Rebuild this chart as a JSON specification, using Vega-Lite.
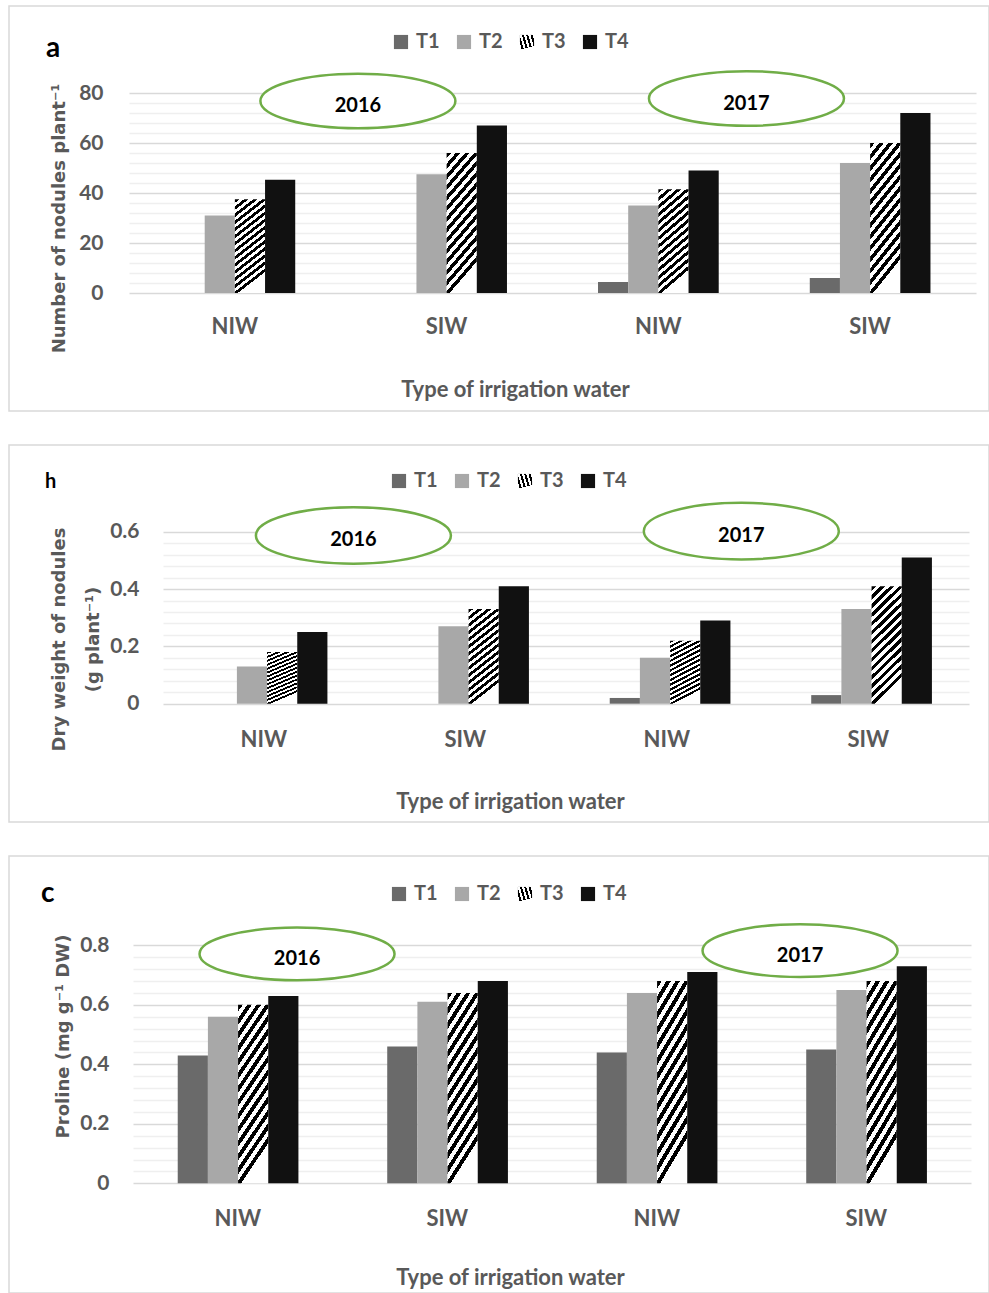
{
  "$schema": "https://vega.github.io/schema/vega-lite/v6.json",
  "padding": {"top": 5, "left": 8, "right": 0, "bottom": 0},
  "background": "white",
  "spacing": 34,
  "bounds": "flush",
  "config": {"view": {"stroke": "#d9d9d9", "strokeWidth": 1.5}, "font": "Lato"},
  "params": [
    {"name": "stripes", "expr": "{gradient:'linear',x1:0,y1:0,x2:0.25,y2:1,stops:[{offset:0,color:'#000'},{offset:0.0357,color:'#000'},{offset:0.0357,color:'#fff'},{offset:0.0714,color:'#fff'},{offset:0.0714,color:'#000'},{offset:0.1071,color:'#000'},{offset:0.1071,color:'#fff'},{offset:0.1429,color:'#fff'},{offset:0.1429,color:'#000'},{offset:0.1786,color:'#000'},{offset:0.1786,color:'#fff'},{offset:0.2143,color:'#fff'},{offset:0.2143,color:'#000'},{offset:0.25,color:'#000'},{offset:0.25,color:'#fff'},{offset:0.2857,color:'#fff'},{offset:0.2857,color:'#000'},{offset:0.3214,color:'#000'},{offset:0.3214,color:'#fff'},{offset:0.3571,color:'#fff'},{offset:0.3571,color:'#000'},{offset:0.3929,color:'#000'},{offset:0.3929,color:'#fff'},{offset:0.4286,color:'#fff'},{offset:0.4286,color:'#000'},{offset:0.4643,color:'#000'},{offset:0.4643,color:'#fff'},{offset:0.5,color:'#fff'},{offset:0.5,color:'#000'},{offset:0.5357,color:'#000'},{offset:0.5357,color:'#fff'},{offset:0.5714,color:'#fff'},{offset:0.5714,color:'#000'},{offset:0.6071,color:'#000'},{offset:0.6071,color:'#fff'},{offset:0.6429,color:'#fff'},{offset:0.6429,color:'#000'},{offset:0.6786,color:'#000'},{offset:0.6786,color:'#fff'},{offset:0.7143,color:'#fff'},{offset:0.7143,color:'#000'},{offset:0.75,color:'#000'},{offset:0.75,color:'#fff'},{offset:0.7857,color:'#fff'},{offset:0.7857,color:'#000'},{offset:0.8214,color:'#000'},{offset:0.8214,color:'#fff'},{offset:0.8571,color:'#fff'},{offset:0.8571,color:'#000'},{offset:0.8929,color:'#000'},{offset:0.8929,color:'#fff'},{offset:0.9286,color:'#fff'},{offset:0.9286,color:'#000'},{offset:0.9643,color:'#000'},{offset:0.9643,color:'#fff'},{offset:1,color:'#fff'}]}"}
  ],
  "resolve": {"scale": {"fill": "independent"}, "legend": {"fill": "independent"}},
  "datasets": {
    "nodules": [
      {"grp": "2016 NIW", "trt": "T1", "value": 0},
      {"grp": "2016 NIW", "trt": "T2", "value": 31},
      {"grp": "2016 NIW", "trt": "T3", "value": 37.5},
      {"grp": "2016 NIW", "trt": "T4", "value": 45.3},
      {"grp": "2016 SIW", "trt": "T1", "value": 0},
      {"grp": "2016 SIW", "trt": "T2", "value": 47.5},
      {"grp": "2016 SIW", "trt": "T3", "value": 56},
      {"grp": "2016 SIW", "trt": "T4", "value": 67},
      {"grp": "2017 NIW", "trt": "T1", "value": 4.4},
      {"grp": "2017 NIW", "trt": "T2", "value": 35},
      {"grp": "2017 NIW", "trt": "T3", "value": 41.5},
      {"grp": "2017 NIW", "trt": "T4", "value": 49},
      {"grp": "2017 SIW", "trt": "T1", "value": 6},
      {"grp": "2017 SIW", "trt": "T2", "value": 52},
      {"grp": "2017 SIW", "trt": "T3", "value": 60},
      {"grp": "2017 SIW", "trt": "T4", "value": 72}
    ],
    "dryweight": [
      {"grp": "2016 NIW", "trt": "T1", "value": 0},
      {"grp": "2016 NIW", "trt": "T2", "value": 0.13},
      {"grp": "2016 NIW", "trt": "T3", "value": 0.18},
      {"grp": "2016 NIW", "trt": "T4", "value": 0.25},
      {"grp": "2016 SIW", "trt": "T1", "value": 0},
      {"grp": "2016 SIW", "trt": "T2", "value": 0.27},
      {"grp": "2016 SIW", "trt": "T3", "value": 0.33},
      {"grp": "2016 SIW", "trt": "T4", "value": 0.41},
      {"grp": "2017 NIW", "trt": "T1", "value": 0.02},
      {"grp": "2017 NIW", "trt": "T2", "value": 0.16},
      {"grp": "2017 NIW", "trt": "T3", "value": 0.22},
      {"grp": "2017 NIW", "trt": "T4", "value": 0.29},
      {"grp": "2017 SIW", "trt": "T1", "value": 0.03},
      {"grp": "2017 SIW", "trt": "T2", "value": 0.33},
      {"grp": "2017 SIW", "trt": "T3", "value": 0.41},
      {"grp": "2017 SIW", "trt": "T4", "value": 0.51}
    ],
    "proline": [
      {"grp": "2016 NIW", "trt": "T1", "value": 0.43},
      {"grp": "2016 NIW", "trt": "T2", "value": 0.56},
      {"grp": "2016 NIW", "trt": "T3", "value": 0.6},
      {"grp": "2016 NIW", "trt": "T4", "value": 0.63},
      {"grp": "2016 SIW", "trt": "T1", "value": 0.46},
      {"grp": "2016 SIW", "trt": "T2", "value": 0.61},
      {"grp": "2016 SIW", "trt": "T3", "value": 0.64},
      {"grp": "2016 SIW", "trt": "T4", "value": 0.68},
      {"grp": "2017 NIW", "trt": "T1", "value": 0.44},
      {"grp": "2017 NIW", "trt": "T2", "value": 0.64},
      {"grp": "2017 NIW", "trt": "T3", "value": 0.68},
      {"grp": "2017 NIW", "trt": "T4", "value": 0.71},
      {"grp": "2017 SIW", "trt": "T1", "value": 0.45},
      {"grp": "2017 SIW", "trt": "T2", "value": 0.65},
      {"grp": "2017 SIW", "trt": "T3", "value": 0.68},
      {"grp": "2017 SIW", "trt": "T4", "value": 0.73}
    ],
    "years": [
      {"panel": "a", "year": "2016", "pos": 1.081, "val": 76.8},
      {"panel": "a", "year": "2017", "pos": 2.916, "val": 77.8},
      {"panel": "b", "year": "2016", "pos": 0.945, "val": 0.587},
      {"panel": "b", "year": "2017", "pos": 2.87, "val": 0.602},
      {"panel": "c", "year": "2016", "pos": 0.783, "val": 0.771},
      {"panel": "c", "year": "2017", "pos": 3.184, "val": 0.782}
    ]
  },
  "vconcat": [
    {
      "width": 980,
      "height": 405,
      "title": {"text": "a", "anchor": "start", "frame": "group", "offset": 0, "dx": 37, "dy": 79, "baseline": "alphabetic", "font": "Lato", "fontSize": 28, "fontWeight": "bold", "color": "#000000"},
      "resolve": {"scale": {"x": "independent", "y": "independent"}},
      "layer": [
        {
          "data": {"name": "nodules"},
          "mark": {"type": "bar"},
          "encoding": {
            "x": {"field": "grp", "type": "nominal", "sort": ["2016 NIW", "2016 SIW", "2017 NIW", "2017 SIW"],
              "scale": {"range": [120, 967], "paddingInner": 0.43, "paddingOuter": 0.215},
              "axis": {"orient": "bottom", "offset": -118, "domain": false, "ticks": false, "tickSize": 0, "grid": false, "labelPadding": 23, "labelAngle": 0,
                "labelExpr": "slice(datum.label, 5)", "labelFont": "Lato", "labelFontSize": 22, "labelFontWeight": "bold", "labelColor": "#595959",
                "title": "Type of irrigation water", "titleFont": "Lato", "titleFontSize": 22, "titleFontWeight": "bold", "titleColor": "#595959",
                "titleX": 506, "titleY": 103, "titleBaseline": "alphabetic", "titleAlign": "center"}},
            "xOffset": {"field": "trt", "type": "nominal", "sort": ["T1", "T2", "T3", "T4"], "scale": {"paddingInner": 0, "paddingOuter": 0}},
            "y": {"field": "value", "type": "quantitative", "scale": {"domain": [0, 80], "range": [287, 87]},
              "axis": {"orient": "left", "values": [0, 4, 8, 12, 16, 20, 24, 28, 32, 36, 40, 44, 48, 52, 56, 60, 64, 68, 72, 76, 80],
                "labelExpr": "datum.value % 20 === 0 ? format(datum.value, 'd') : ''", "labelOverlap": false,
                "offset": -94, "domain": false, "ticks": false, "tickSize": 0, "labelPadding": 0,
                "grid": true, "gridWidth": 1.5, "gridColor": {"condition": {"test": "datum.value % 20 === 0", "value": "#d9d9d9"}, "value": "#efefef"},
                "labelFont": "Lato", "labelFontSize": 21, "labelFontWeight": "bold", "labelColor": "#595959",
                "title": "Number of nodules plant⁻¹", "titleFont": "DejaVu Sans", "titleFontSize": 18, "titleFontWeight": "bold", "titleColor": "#595959",
                "titleAngle": -90, "titleX": -44, "titleY": 212, "titleBaseline": "middle", "titleAlign": "center"}},
            "fill": {"field": "trt", "type": "nominal",
              "scale": {"domain": ["T1", "T2", "T3", "T4"], "range": ["#6a6a6a", "#a8a8a8", {"expr": "stripes"}, "#111111"]},
              "legend": {"orient": "none", "legendX": 382, "legendY": 26, "direction": "horizontal", "title": null, "padding": 0,
                "symbolType": "square", "symbolSize": 200, "symbolStrokeWidth": 0, "labelOffset": 5, "columnPadding": 14,
                "labelFont": "Lato", "labelFontSize": 20, "labelFontWeight": "bold", "labelColor": "#595959"}}
          }
        },
        {
          "data": {"name": "years"},
          "transform": [{"filter": "datum.panel === 'a'"}],
          "mark": {"type": "point", "shape": "M -1 0 A 1 0.28 0 1 1 1 0 A 1 0.28 0 1 1 -1 0 Z", "filled": true, "fill": "white", "stroke": "#70ad47", "strokeWidth": 2.5, "size": 38025, "opacity": 1},
          "encoding": {
            "x": {"field": "pos", "type": "quantitative", "scale": {"domain": [0, 4], "range": [120, 967]}, "axis": null},
            "y": {"field": "val", "type": "quantitative", "scale": {"domain": [0, 80], "range": [287, 87]}, "axis": null}
          }
        },
        {
          "data": {"name": "years"},
          "transform": [{"filter": "datum.panel === 'a'"}],
          "mark": {"type": "text", "font": "Lato", "fontSize": 20, "fontWeight": "bold", "color": "#000000", "baseline": "middle", "dy": 5},
          "encoding": {
            "x": {"field": "pos", "type": "quantitative", "scale": {"domain": [0, 4], "range": [120, 967]}, "axis": null},
            "y": {"field": "val", "type": "quantitative", "scale": {"domain": [0, 80], "range": [287, 87]}, "axis": null},
            "text": {"field": "year"}
          }
        }
      ]
    },
    {
      "width": 980,
      "height": 377,
      "title": {"text": "h", "anchor": "start", "frame": "group", "offset": 0, "dx": 36, "dy": 63, "baseline": "alphabetic", "font": "Lato", "fontSize": 20, "fontWeight": "bold", "color": "#000000"},
      "resolve": {"scale": {"x": "independent", "y": "independent"}},
      "layer": [
        {
          "data": {"name": "dryweight"},
          "mark": {"type": "bar"},
          "encoding": {
            "x": {"field": "grp", "type": "nominal", "sort": ["2016 NIW", "2016 SIW", "2017 NIW", "2017 SIW"],
              "scale": {"range": [154, 960], "paddingInner": 0.434, "paddingOuter": 0.217},
              "axis": {"orient": "bottom", "offset": -118.3, "domain": false, "ticks": false, "tickSize": 0, "grid": false, "labelPadding": 26, "labelAngle": 0,
                "labelExpr": "slice(datum.label, 5)", "labelFont": "Lato", "labelFontSize": 22, "labelFontWeight": "bold", "labelColor": "#595959",
                "title": "Type of irrigation water", "titleFont": "Lato", "titleFontSize": 22, "titleFontWeight": "bold", "titleColor": "#595959",
                "titleX": 501, "titleY": 105, "titleBaseline": "alphabetic", "titleAlign": "center"}},
            "xOffset": {"field": "trt", "type": "nominal", "sort": ["T1", "T2", "T3", "T4"], "scale": {"paddingInner": 0, "paddingOuter": 0}},
            "y": {"field": "value", "type": "quantitative", "scale": {"domain": [0, 0.6], "range": [258.7, 86.7]},
              "axis": {"orient": "left", "values": [0, 0.04, 0.08, 0.12, 0.16, 0.2, 0.24, 0.28, 0.32, 0.36, 0.4, 0.44, 0.48, 0.52, 0.56, 0.6],
                "labelExpr": "abs(datum.value*5 - round(datum.value*5)) < 0.001 ? format(datum.value, '~g') : ''", "labelOverlap": false,
                "offset": -130, "domain": false, "ticks": false, "tickSize": 0, "labelPadding": 0,
                "grid": true, "gridWidth": 1.5, "gridColor": {"condition": {"test": "abs(datum.value*5 - round(datum.value*5)) < 0.001", "value": "#d9d9d9"}, "value": "#efefef"},
                "labelFont": "Lato", "labelFontSize": 21, "labelFontWeight": "bold", "labelColor": "#595959",
                "title": ["Dry weight of nodules", "(g plant⁻¹)"], "titleFont": "DejaVu Sans", "titleFontSize": 18, "titleFontWeight": "bold", "titleColor": "#595959", "titleLineHeight": 34,
                "titleAngle": -90, "titleX": -80, "titleY": 194, "titleBaseline": "middle", "titleAlign": "center"}},
            "fill": {"field": "trt", "type": "nominal",
              "scale": {"domain": ["T1", "T2", "T3", "T4"], "range": ["#6a6a6a", "#a8a8a8", {"expr": "stripes"}, "#111111"]},
              "legend": {"orient": "none", "legendX": 380, "legendY": 26, "direction": "horizontal", "title": null, "padding": 0,
                "symbolType": "square", "symbolSize": 200, "symbolStrokeWidth": 0, "labelOffset": 5, "columnPadding": 14,
                "labelFont": "Lato", "labelFontSize": 20, "labelFontWeight": "bold", "labelColor": "#595959"}}
          }
        },
        {
          "data": {"name": "years"},
          "transform": [{"filter": "datum.panel === 'b'"}],
          "mark": {"type": "point", "shape": "M -1 0 A 1 0.29 0 1 1 1 0 A 1 0.29 0 1 1 -1 0 Z", "filled": true, "fill": "white", "stroke": "#70ad47", "strokeWidth": 2.5, "size": 38025, "opacity": 1},
          "encoding": {
            "x": {"field": "pos", "type": "quantitative", "scale": {"domain": [0, 4], "range": [154, 960]}, "axis": null},
            "y": {"field": "val", "type": "quantitative", "scale": {"domain": [0, 0.6], "range": [258.7, 86.7]}, "axis": null}
          }
        },
        {
          "data": {"name": "years"},
          "transform": [{"filter": "datum.panel === 'b'"}],
          "mark": {"type": "text", "font": "Lato", "fontSize": 20, "fontWeight": "bold", "color": "#000000", "baseline": "middle", "dy": 5},
          "encoding": {
            "x": {"field": "pos", "type": "quantitative", "scale": {"domain": [0, 4], "range": [154, 960]}, "axis": null},
            "y": {"field": "val", "type": "quantitative", "scale": {"domain": [0, 0.6], "range": [258.7, 86.7]}, "axis": null},
            "text": {"field": "year"}
          }
        }
      ]
    },
    {
      "width": 980,
      "height": 437,
      "title": {"text": "c", "anchor": "start", "frame": "group", "offset": 0, "dx": 32, "dy": 74, "baseline": "alphabetic", "font": "Lato", "fontSize": 28, "fontWeight": "bold", "color": "#000000"},
      "resolve": {"scale": {"x": "independent", "y": "independent"}},
      "layer": [
        {
          "data": {"name": "proline"},
          "mark": {"type": "bar"},
          "encoding": {
            "x": {"field": "grp", "type": "nominal", "sort": ["2016 NIW", "2016 SIW", "2017 NIW", "2017 SIW"],
              "scale": {"range": [124, 962], "paddingInner": 0.427, "paddingOuter": 0.2135},
              "axis": {"orient": "bottom", "offset": -109.7, "domain": false, "ticks": false, "tickSize": 0, "grid": false, "labelPadding": 25, "labelAngle": 0,
                "labelExpr": "slice(datum.label, 5)", "labelFont": "Lato", "labelFontSize": 22, "labelFontWeight": "bold", "labelColor": "#595959",
                "title": "Type of irrigation water", "titleFont": "Lato", "titleFontSize": 22, "titleFontWeight": "bold", "titleColor": "#595959",
                "titleX": 501, "titleY": 101, "titleBaseline": "alphabetic", "titleAlign": "center"}},
            "xOffset": {"field": "trt", "type": "nominal", "sort": ["T1", "T2", "T3", "T4"], "scale": {"paddingInner": 0, "paddingOuter": 0}},
            "y": {"field": "value", "type": "quantitative", "scale": {"domain": [0, 0.8], "range": [327.3, 89.3]},
              "axis": {"orient": "left", "values": [0, 0.04, 0.08, 0.12, 0.16, 0.2, 0.24, 0.28, 0.32, 0.36, 0.4, 0.44, 0.48, 0.52, 0.56, 0.6, 0.64, 0.68, 0.72, 0.76, 0.8],
                "labelExpr": "abs(datum.value*5 - round(datum.value*5)) < 0.001 ? format(datum.value, '~g') : ''", "labelOverlap": false,
                "offset": -100, "domain": false, "ticks": false, "tickSize": 0, "labelPadding": 0,
                "grid": true, "gridWidth": 1.5, "gridColor": {"condition": {"test": "abs(datum.value*5 - round(datum.value*5)) < 0.001", "value": "#d9d9d9"}, "value": "#efefef"},
                "labelFont": "Lato", "labelFontSize": 21, "labelFontWeight": "bold", "labelColor": "#595959",
                "title": "Proline (mg g⁻¹ DW)", "titleFont": "DejaVu Sans", "titleFontSize": 18, "titleFontWeight": "bold", "titleColor": "#595959",
                "titleAngle": -90, "titleX": -46, "titleY": 180, "titleBaseline": "middle", "titleAlign": "center"}},
            "fill": {"field": "trt", "type": "nominal",
              "scale": {"domain": ["T1", "T2", "T3", "T4"], "range": ["#6a6a6a", "#a8a8a8", {"expr": "stripes"}, "#111111"]},
              "legend": {"orient": "none", "legendX": 380, "legendY": 28, "direction": "horizontal", "title": null, "padding": 0,
                "symbolType": "square", "symbolSize": 200, "symbolStrokeWidth": 0, "labelOffset": 5, "columnPadding": 14,
                "labelFont": "Lato", "labelFontSize": 20, "labelFontWeight": "bold", "labelColor": "#595959"}}
          }
        },
        {
          "data": {"name": "years"},
          "transform": [{"filter": "datum.panel === 'c'"}],
          "mark": {"type": "point", "shape": "M -1 0 A 1 0.27 0 1 1 1 0 A 1 0.27 0 1 1 -1 0 Z", "filled": true, "fill": "white", "stroke": "#70ad47", "strokeWidth": 2.5, "size": 38025, "opacity": 1},
          "encoding": {
            "x": {"field": "pos", "type": "quantitative", "scale": {"domain": [0, 4], "range": [124, 962]}, "axis": null},
            "y": {"field": "val", "type": "quantitative", "scale": {"domain": [0, 0.8], "range": [327.3, 89.3]}, "axis": null}
          }
        },
        {
          "data": {"name": "years"},
          "transform": [{"filter": "datum.panel === 'c'"}],
          "mark": {"type": "text", "font": "Lato", "fontSize": 20, "fontWeight": "bold", "color": "#000000", "baseline": "middle", "dy": 5},
          "encoding": {
            "x": {"field": "pos", "type": "quantitative", "scale": {"domain": [0, 4], "range": [124, 962]}, "axis": null},
            "y": {"field": "val", "type": "quantitative", "scale": {"domain": [0, 0.8], "range": [327.3, 89.3]}, "axis": null},
            "text": {"field": "year"}
          }
        }
      ]
    }
  ]
}
